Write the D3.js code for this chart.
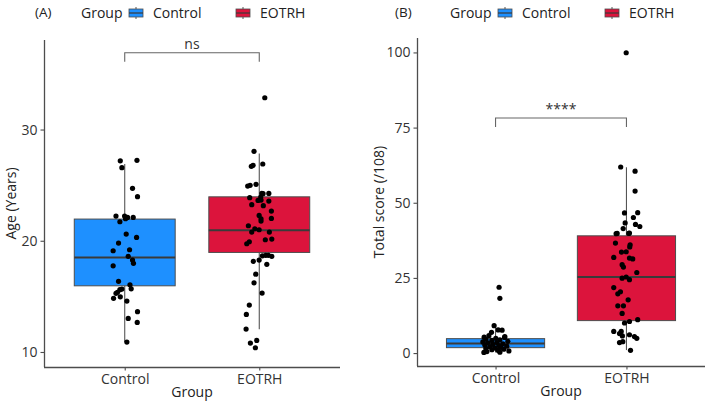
<!DOCTYPE html>
<html>
<head>
<meta charset="utf-8">
<script src="https://cdn.jsdelivr.net/npm/d3@7"></script>
<style>
  body { margin: 0; background: #fff; }
  svg text { font-family: "Open Sans", "Noto Sans", sans-serif; }
</style>
</head>
<body>
<div id="chart"></div>
<script>
const groups = ["Control", "EOTRH"];
const groupColors = ["#1E90FF", "#DC143C"];

// box stats per group: [lower whisker, q1, median, q3, upper whisker]
const ageStats = [[10.9, 15.95, 18.5, 21.95, 26.9], [12.05, 18.95, 20.95, 23.95, 27.85]];
const scoreStats = [[0.2, 1.8, 3.2, 4.8, 8.6], [1.0, 10.8, 25.3, 39.0, 61.8]];

// Age (years) - jittered points, jitter in category units
const ageControl = [27.19, 27.23, 26.57, 24.71, 23.96, 22.22, 22.22, 22.1, 22.1, 21.98, 21.71, 20.6, 20.3, 19.79, 19.1, 19.19, 18.6, 18.26, 17.97, 17.75, 16.35, 16.04, 15.68, 15.66, 15.6, 15.36, 15.27, 14.82, 14.96, 14.58, 13.62, 13.02, 12.66, 10.89];
const ageControlJit = [-0.033, 0.091, -0.021, 0.058, 0.095, -0.065, -0.001, 0.021, 0.063, 0.006, -0.036, 0.011, 0.088, -0.046, -0.086, 0.036, 0.026, 0.058, 0.065, -0.086, -0.046, 0.039, 0.048, -0.021, -0.036, -0.054, -0.065, -0.083, -0.033, 0.016, 0.095, 0.026, 0.093, 0.016];
const ageEotrh = [32.86, 28.04, 26.9, 26.69, 26.78, 24.92, 24.98, 25.07, 24.26, 24.23, 24.26, 23.87, 23.93, 23.63, 23.66, 23.57, 23.24, 23.15, 22.67, 22.28, 21.98, 21.77, 22.01, 21.35, 21.08, 20.99, 20.78, 20.78, 20.09, 20.15, 19.91, 19.73, 18.65, 18.69, 18.69, 18.6, 18.26, 18.15, 17.88, 17.0, 16.22, 15.3, 14.22, 13.38, 12.06, 10.8, 11.04, 10.38];
const ageEotrhJit = [0.041, -0.039, 0.026, -0.059, -0.046, -0.086, -0.068, -0.024, 0.019, 0.028, 0.071, -0.071, 0.011, -0.009, 0.013, 0.071, -0.056, 0.030, 0.090, -0.001, 0.013, 0.013, 0.090, -0.081, -0.033, -0.001, -0.056, 0.075, 0.045, 0.093, -0.074, -0.093, 0.023, 0.048, 0.068, 0.093, -0.001, -0.044, 0.056, -0.026, -0.039, 0.021, -0.074, -0.096, -0.098, -0.066, -0.019, -0.029];

// Total score (/108)
const scoreControl = [21.9, 18.2, 9.1, 7.7, 7.6, 6.9, 5.8, 5.5, 5.3, 5.2, 4.9, 4.6, 4.4, 4.2, 3.9, 3.7, 3.5, 3.4, 3.1, 2.9, 2.7, 2.5, 2.3, 2.1, 1.9, 1.7, 1.5, 1.3, 1.1, 0.9, 0.7, 0.5, 0.3, 0.2];
const scoreControlJit = [0.027, 0.033, -0.011, 0.020, 0.050, -0.031, -0.051, 0.071, -0.087, 0.069, 0.002, -0.074, 0.033, -0.028, 0.094, -0.097, 0.010, -0.059, 0.056, -0.021, -0.082, 0.025, 0.086, -0.044, 0.040, -0.005, -0.074, 0.063, -0.028, 0.018, 0.102, -0.066, 0.033, -0.089];
const scoreEotrh = [99.9, 61.9, 60.5, 53.9, 46.6, 46.7, 45.1, 43.3, 42.8, 42.1, 41.4, 39.8, 39.8, 39.7, 39.9, 36.6, 36.0, 35.3, 33.7, 33.6, 31.8, 31.6, 31.3, 29.4, 28.6, 26.8, 24.9, 24.4, 25.3, 21.8, 20.4, 19.7, 17.7, 15.7, 15.7, 13.2, 10.0, 10.5, 11.1, 7.2, 7.2, 6.5, 5.7, 6.1, 5.5, 4.9, 3.8, 0.9, 3.5];
const scoreEotrhJit = [-0.002, -0.044, 0.066, 0.066, -0.015, 0.086, 0.053, -0.010, 0.069, 0.102, -0.025, -0.071, 0.018, -0.079, 0.023, -0.084, 0.028, 0.025, -0.002, -0.038, -0.097, 0.023, 0.048, -0.033, -0.023, 0.079, -0.033, 0.023, -0.002, -0.097, -0.046, -0.066, 0.013, -0.066, -0.023, -0.033, -0.015, 0.023, 0.086, -0.097, -0.040, -0.053, -0.031, 0.023, 0.061, 0.079, -0.028, 0.031, -0.053];

const ageTicks = [10, 20, 30];
const scoreTicks = [0, 25, 50, 75, 100];

const W = 709, H = 402;
const svg = d3.select("#chart").append("svg")
    .attr("width", W)
    .attr("height", H);

const axisColor = "#4d4d4d";
const fontSize = "14px";

function drawPanel(cfg) {
    const x = d3.scalePoint()
        .domain(groups)
        .range([cfg.left, cfg.right])
        .padding(0.6);
    const step = x.step();
    const y = d3.scaleLinear()
        .domain(cfg.domain)
        .range([cfg.bottom, cfg.top]);

    const g = svg.append("g");
    const boxW = step * 0.75;

    // boxes with whiskers
    g.selectAll(".box")
        .data(cfg.stats)
        .enter().append("g")
        .attr("class", "box")
        .each(function(s, i) {
            const cx = x(groups[i]);
            const el = d3.select(this);
            el.append("line")
                .attr("x1", cx).attr("x2", cx)
                .attr("y1", y(s[3])).attr("y2", y(s[4]))
                .attr("stroke", "#555").attr("stroke-width", 1.1);
            el.append("line")
                .attr("x1", cx).attr("x2", cx)
                .attr("y1", y(s[1])).attr("y2", y(s[0]))
                .attr("stroke", "#555").attr("stroke-width", 1.1);
            el.append("rect")
                .attr("x", cx - boxW / 2)
                .attr("y", y(s[3]))
                .attr("width", boxW)
                .attr("height", y(s[1]) - y(s[3]))
                .attr("fill", groupColors[i])
                .attr("stroke", "#4d4d4d")
                .attr("stroke-width", 1);
            el.append("line")
                .attr("x1", cx - boxW / 2).attr("x2", cx + boxW / 2)
                .attr("y1", y(s[2])).attr("y2", y(s[2]))
                .attr("stroke", "#3a3a3a").attr("stroke-width", 2);
        });

    // jittered points
    cfg.points.forEach(function(p, i) {
        const cx = x(groups[i]);
        g.append("g").selectAll("circle")
            .data(p.values)
            .enter().append("circle")
            .attr("cx", function(d, j) { return cx + p.jit[j] * step; })
            .attr("cy", function(d) { return y(d); })
            .attr("r", 2.6)
            .attr("fill", "#000");
    });

    // significance bracket
    const bx1 = x(groups[0]), bx2 = x(groups[1]);
    g.append("path")
        .attr("d", "M" + bx1 + "," + y(cfg.bracket[1]) +
            "V" + y(cfg.bracket[0]) + "H" + bx2 + "V" + y(cfg.bracket[1]))
        .attr("fill", "none")
        .attr("stroke", "#666")
        .attr("stroke-width", 1.1);
    g.append("text")
        .attr("x", (bx1 + bx2) / 2)
        .attr("y", y(cfg.bracket[0]) - 4)
        .attr("text-anchor", "middle")
        .style("font-size", fontSize)
        .attr("fill", "#333")
        .text(cfg.sig);

    // axes
    const xAxis = g.append("g")
        .attr("transform", "translate(0," + cfg.bottom + ")")
        .call(d3.axisBottom(x).tickSize(3.5).tickSizeOuter(0).tickPadding(4));
    const yAxis = g.append("g")
        .attr("transform", "translate(" + cfg.left + ",0)")
        .call(d3.axisLeft(y).tickValues(cfg.ticks).tickSize(3.5).tickSizeOuter(0).tickPadding(3));
    [xAxis, yAxis].forEach(function(a) {
        a.select(".domain").attr("stroke", axisColor).attr("stroke-width", 1.3);
        a.selectAll(".tick line").attr("stroke", axisColor).attr("stroke-width", 1.1);
        a.selectAll(".tick text")
            .attr("fill", "#333")
            .style("font-size", fontSize)
            .style("font-family", '"Open Sans", sans-serif');
    });
    yAxis.select(".domain").attr("d", "M0.5," + cfg.bottom + "V" + cfg.top);
    xAxis.select(".domain").attr("d", "M" + cfg.left + ",0.5H" + cfg.right);

    // axis titles
    g.append("text")
        .attr("x", (cfg.left + cfg.right) / 2)
        .attr("y", cfg.bottom + 30)
        .attr("text-anchor", "middle")
        .style("font-size", fontSize)
        .attr("fill", "#222")
        .text("Group");
    g.append("text")
        .attr("transform", "translate(" + cfg.yTitleX + "," + ((cfg.top + cfg.bottom) / 2) + ") rotate(-90)")
        .attr("text-anchor", "middle")
        .attr("dy", "0.35em")
        .style("font-size", fontSize)
        .attr("fill", "#222")
        .text(cfg.yTitle);

    // panel tag
    g.append("text")
        .attr("x", cfg.tagX)
        .attr("y", 17)
        .style("font-size", "13.5px")
        .attr("fill", "#222")
        .text(cfg.tag);

    // legend
    const lg = g.append("g").attr("transform", "translate(" + cfg.legendX + ",13)");
    lg.append("text")
        .attr("x", 0).attr("y", 5)
        .style("font-size", fontSize)
        .attr("fill", "#222")
        .text("Group");
    groups.forEach(function(name, i) {
        const kx = 48 + i * 107;
        const key = lg.append("g").attr("transform", "translate(" + kx + ",0)");
        key.append("line")
            .attr("x1", 7).attr("x2", 7).attr("y1", -6).attr("y2", 6)
            .attr("stroke", "#555").attr("stroke-width", 1);
        key.append("rect")
            .attr("x", 0).attr("y", -4).attr("width", 14).attr("height", 8)
            .attr("fill", groupColors[i])
            .attr("stroke", "#4d4d4d").attr("stroke-width", 0.8);
        key.append("line")
            .attr("x1", 0).attr("x2", 14).attr("y1", 0).attr("y2", 0)
            .attr("stroke", "#3a3a3a").attr("stroke-width", 1.2);
        lg.append("text")
            .attr("x", kx + 24).attr("y", 5)
            .style("font-size", fontSize)
            .attr("fill", "#222")
            .text(name);
    });
}

drawPanel({
    left: 44, right: 340, top: 40, bottom: 367,
    domain: [8.65, 38.05],
    ticks: ageTicks,
    stats: ageStats,
    points: [{values: ageControl, jit: ageControlJit}, {values: ageEotrh, jit: ageEotrhJit}],
    bracket: [36.9, 36.1],
    sig: "ns",
    yTitle: "Age (Years)",
    yTitleX: 11,
    tag: "(A)",
    tagX: 35,
    legendX: 81
});

drawPanel({
    left: 417, right: 705, top: 38, bottom: 366,
    domain: [-4.3, 104.8],
    ticks: scoreTicks,
    stats: scoreStats,
    points: [{values: scoreControl, jit: scoreControlJit}, {values: scoreEotrh, jit: scoreEotrhJit}],
    bracket: [78.2, 75.2],
    sig: "****",
    yTitle: "Total score (/108)",
    yTitleX: 379,
    tag: "(B)",
    tagX: 395,
    legendX: 450
});
</script>
</body>
</html>
